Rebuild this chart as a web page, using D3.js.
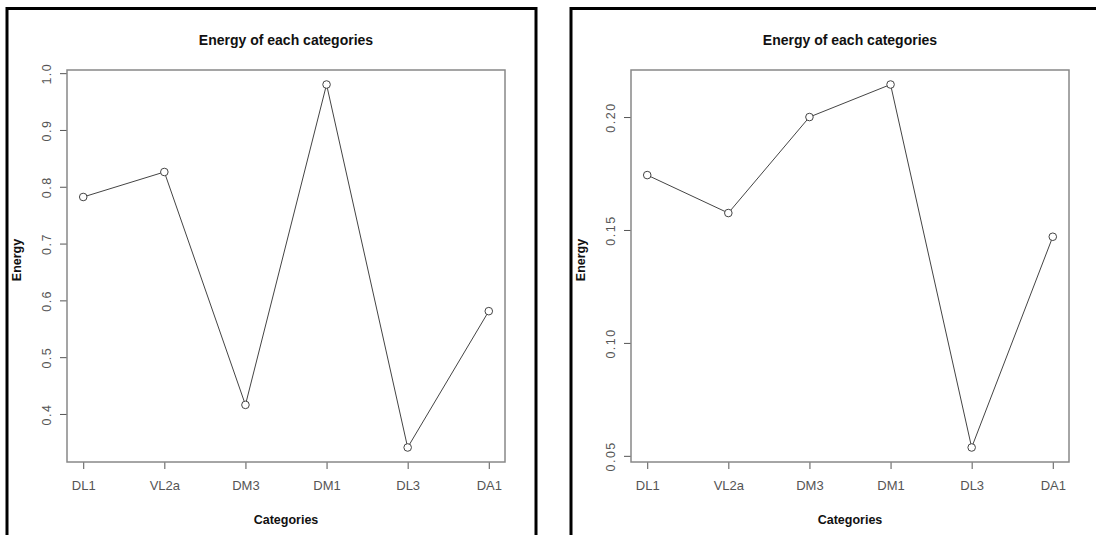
<!DOCTYPE html>
<html>
<head>
<meta charset="utf-8">
<script src="https://cdn.jsdelivr.net/npm/d3@7"></script>
<style>
  body { margin: 0; background: #fff; }
  svg text { font-family: "Liberation Sans", Arial, sans-serif; }
</style>
</head>
<body>
<div id="chart"></div>
<script>
// data
var categories = ["DL1", "VL2a", "DM3", "DM1", "DL3", "DA1"];
var energyLeft = [0.782, 0.826, 0.416, 0.980, 0.341, 0.581];
var energyRight = [0.1743, 0.1575, 0.2000, 0.2144, 0.0537, 0.1470];
var yTicksLeft = [0.4, 0.5, 0.6, 0.7, 0.8, 0.9, 1.0];
var yTicksRight = [0.05, 0.10, 0.15, 0.20];

var svgWidth = 1096;
var svgHeight = 535;

var svg = d3.select("#chart")
  .append("svg")
  .attr("width", svgWidth)
  .attr("height", svgHeight);

// plot region inside each panel
var margin = { top: 70, left: 67 };
var width = 438;
var height = 392;

function drawPanel(offsetX, values, ticks, fmt) {
  var panel = svg.append("g")
    .attr("transform", `translate(${offsetX}, 0)`);

  // outer black frame of the panel
  panel.append("rect")
    .attr("x", 7)
    .attr("y", 8.5)
    .attr("width", 529)
    .attr("height", 540)
    .attr("fill", "none")
    .attr("stroke", "#000")
    .attr("stroke-width", 3);

  var chartGroup = panel.append("g")
    .attr("transform", `translate(${margin.left}, ${margin.top})`);

  // R style: 4% padding on the data range
  var lo = d3.min(values), hi = d3.max(values);
  var pad = (hi - lo) * 0.04;

  var xScale = d3.scalePoint()
    .domain(categories)
    .range([0, width])
    .padding(0.2);

  var yScale = d3.scaleLinear()
    .domain([lo - pad, hi + pad])
    .range([height, 0]);

  var bottomAxis = d3.axisBottom(xScale).tickSize(7).tickPadding(12);
  var leftAxis = d3.axisLeft(yScale).tickValues(ticks).tickSize(7).tickFormat(fmt);

  var xAxisG = chartGroup.append("g")
    .attr("transform", `translate(0, ${height})`)
    .call(bottomAxis);
  xAxisG.select(".domain").remove();
  xAxisG.selectAll("line").attr("stroke", "#555");
  xAxisG.selectAll("text")
    .attr("fill", "#555")
    .style("font-size", "13px");

  var yAxisG = chartGroup.append("g").call(leftAxis);
  yAxisG.select(".domain").remove();
  yAxisG.selectAll("line").attr("stroke", "#555");
  yAxisG.selectAll("text")
    .attr("fill", "#555")
    .style("font-size", "12.5px")
    .style("letter-spacing", "1.5px")
    .attr("x", 0)
    .attr("dy", 0)
    .attr("text-anchor", "middle")
    .attr("transform", "translate(-16, 0) rotate(-90)");

  // plot box
  chartGroup.append("rect")
    .attr("width", width)
    .attr("height", height)
    .attr("fill", "none")
    .attr("stroke", "#888")
    .attr("stroke-width", 1.5);

  var line = d3.line()
    .x((d, i) => xScale(categories[i]))
    .y(d => yScale(d));

  chartGroup.append("path")
    .datum(values)
    .attr("d", line)
    .attr("fill", "none")
    .attr("stroke", "#444")
    .attr("stroke-width", 1);

  chartGroup.selectAll("circle")
    .data(values)
    .enter()
    .append("circle")
    .attr("cx", (d, i) => xScale(categories[i]))
    .attr("cy", d => yScale(d))
    .attr("r", 3.8)
    .attr("fill", "#fff")
    .attr("stroke", "#444")
    .attr("stroke-width", 1);

  // title
  chartGroup.append("text")
    .attr("x", width / 2)
    .attr("y", -25)
    .attr("text-anchor", "middle")
    .style("font-size", "14px")
    .style("font-weight", "bold")
    .attr("fill", "#111")
    .text("Energy of each categories");

  // x label
  chartGroup.append("text")
    .attr("x", width / 2)
    .attr("y", height + 62)
    .attr("text-anchor", "middle")
    .style("font-size", "12.5px")
    .style("font-weight", "bold")
    .attr("fill", "#111")
    .text("Categories");

  // y label
  chartGroup.append("text")
    .attr("transform", "rotate(-90)")
    .attr("x", 0 - (190))
    .attr("y", -46)
    .attr("text-anchor", "middle")
    .style("font-size", "12.5px")
    .style("font-weight", "bold")
    .attr("fill", "#111")
    .text("Energy");
}

drawPanel(0, energyLeft, yTicksLeft, d3.format(".1f"));
drawPanel(564, energyRight, yTicksRight, d3.format(".2f"));
</script>
</body>
</html>
